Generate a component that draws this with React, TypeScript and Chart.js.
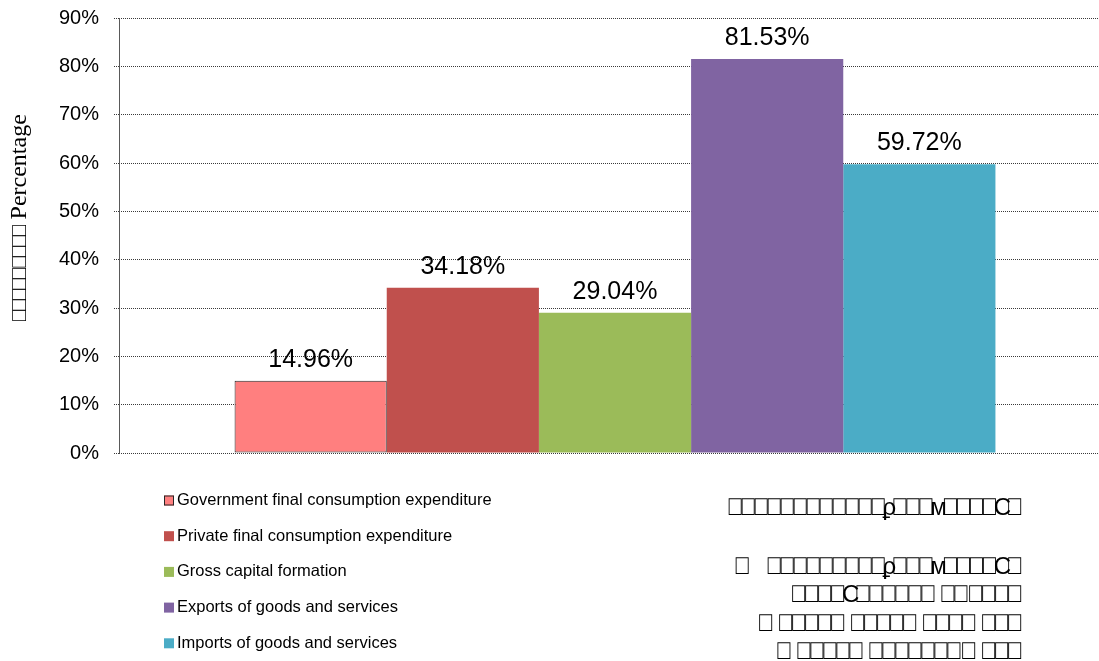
import React, { useEffect, useRef } from "react";
import { Chart, registerables } from "chart.js";

Chart.register(...registerables);

const categories: string[] = [""];
const seriesNames: string[] = [
  "Government final consumption expenditure",
  "Private final consumption expenditure",
  "Gross capital formation",
  "Exports of goods and services",
  "Imports of goods and services",
];
const seriesValues: number[] = [14.96, 34.18, 29.04, 81.53, 59.72];
const seriesColors: string[] = ["#FF7F7F", "#C0504D", "#9BBB59", "#8064A2", "#4BACC6"];
const yTickMin = 0;
const yTickMax = 90;
const yTickStep = 10;
// Text set in a legacy symbol-encoded font (private-use code points), shown as in the source.
const yTitleNative = "\uF0C1\uF0A8\uF0D2\uF0B5\uF0E3 \uF0A1\uF0C7\uF0B9\uF0D4";
const yTitleEnglish = "Percentage";
const noteLines: string[] = [
  "\uF0AA\uF0B3\uF0C1\uF0A8\uF0D2\uF0B5\uF0E3\uF0A1\uF0C7\uF0B9\uF0D4\uF0A6ϼ\uF0C3\uF0A4\uF0B2м\uF0D6\uF0B1\uF0E2\uF0C9C\uF0A7",
  "\uF0B4\u2003\uF0A8\uF0D2\uF0B5\uF0E3\uF0A1\uF0C7\uF0B9\uF0D4\uF0A6ϼ\uF0C3\uF0A4\uF0B2м\uF0D6\uF0B1\uF0E2\uF0C9C\uF0A7",
  "\uF0C5\uF0A3\uF0D1\uF0B6C\uF0E4\uF0A9\uF0C8\uF0BA\uF0D5\uF0AB\u2002\uF0E9\uF0B7 \uF0CA\uF0AC\uF0D7\uF0B8",
  "\uF0A5\u2002\uF0C9\uF0D3\uF0BB\uF0E5\uF0AD\u2002\uF0D8\uF0BC\uF0E6\uF0AE\uF0CC\u2002\uF0E7\uF0AF\uF0CD\uF0DA\u2002\uF0BE\uF0EA\uF0B9",
  "\uF0B0\u2002\uF0CE\uF0DB\uF0BF\uF0EB\uF0C0\u2002\uF0CF\uF0DC\uF0C2\uF0EC\uF0C4\uF0D0\uF0E1 \uF0DD\u2002\uF0C6\uF0ED\uF0DE",
];

const SANS = 'Arial, "Liberation Sans", sans-serif';
const SERIF = '"Times New Roman", "Liberation Serif", serif';

const axisLinePlugin = {
  id: "axisLine",
  beforeDatasetsDraw(chart: any) {
    const { ctx, chartArea } = chart;
    ctx.save();
    ctx.strokeStyle = "#595959";
    ctx.lineWidth = 1;
    ctx.setLineDash([]);
    ctx.beginPath();
    const x = Math.round(chartArea.left) + 0.5;
    ctx.moveTo(x, chartArea.top);
    ctx.lineTo(x, chartArea.bottom + 0.5);
    ctx.stroke();
    ctx.restore();
  },
};

const decorPlugin = {
  id: "decor",
  afterDraw(chart: any) {
    const ctx = chart.ctx as CanvasRenderingContext2D;
    ctx.save();
    // data labels
    ctx.fillStyle = "#000";
    ctx.font = `25px ${SANS}`;
    ctx.textAlign = "center";
    ctx.textBaseline = "alphabetic";
    chart.data.datasets.forEach((ds: any, i: number) => {
      const meta = chart.getDatasetMeta(i);
      meta.data.forEach((el: any, j: number) => {
        const v = ds.data[j] as number;
        ctx.fillText(`${v.toFixed(2)}%`, el.x, el.y - 14);
      });
    });

    // y title (reads bottom to top)
    ctx.save();
    ctx.translate(26, 323);
    ctx.rotate(-Math.PI / 2);
    ctx.textAlign = "left";
    ctx.textBaseline = "alphabetic";
    ctx.font = `20px ${SANS}`;
    (ctx as any).letterSpacing = "-4.5px";
    ctx.fillText(yTitleNative, 0, 0);
    const w1 = ctx.measureText(yTitleNative).width;
    (ctx as any).letterSpacing = "0px";
    ctx.font = `24px ${SERIF}`;
    ctx.fillText(yTitleEnglish, w1 + 8, 0);
    ctx.restore();

    // legend
    ctx.font = `16.5px ${SANS}`;
    ctx.textAlign = "left";
    ctx.textBaseline = "middle";
    chart.data.datasets.forEach((ds: any, i: number) => {
      const cy = 500.5 + i * 35.7;
      ctx.fillStyle = ds.backgroundColor;
      ctx.fillRect(164, cy - 5, 10, 10);
      if (ds.borderWidth > 0) {
        ctx.strokeStyle = ds.borderColor;
        ctx.lineWidth = 1;
        ctx.strokeRect(164.5, cy - 4.5, 9, 9);
      }
      ctx.fillStyle = "#000";
      ctx.fillText(ds.label, 177, cy);
    });

    // note block
    ctx.font = `24px ${SANS}`;
    (ctx as any).letterSpacing = "-5px";
    ctx.textAlign = "right";
    ctx.textBaseline = "middle";
    ctx.fillStyle = "#000";
    const ys = [508, 567, 595, 624, 652];
    noteLines.forEach((line, i) => {
      ctx.fillText(line, 1019, ys[i]);
    });
    (ctx as any).letterSpacing = "0px";
    ctx.restore();
  },
};

export default function App() {
  const canvasRef = useRef<HTMLCanvasElement | null>(null);

  useEffect(() => {
    const canvas = canvasRef.current;
    if (!canvas) return;
    const chart = new Chart(canvas, {
      type: "bar",
      data: {
        labels: categories,
        datasets: seriesNames.map((name, i) => ({
          label: name,
          data: [seriesValues[i]],
          backgroundColor: seriesColors[i],
          borderColor: i === 0 ? "#262626" : seriesColors[i],
          borderWidth: i === 0 ? 1 : 0,
          borderSkipped: false,
          categoryPercentage: 0.767,
          barPercentage: 1,
        })),
      },
      options: {
        responsive: false,
        animation: false,
        devicePixelRatio: 1,
        layout: { padding: { left: 0, right: 14, top: 18, bottom: 0 } },
        plugins: {
          legend: { display: false },
          tooltip: { enabled: false },
          title: { display: false },
        },
        scales: {
          x: {
            ticks: { display: false },
            grid: { display: false },
            border: { display: false },
            afterFit: (scale: any) => {
              scale.height = 208;
            },
          },
          y: {
            min: yTickMin,
            max: yTickMax,
            ticks: {
              stepSize: yTickStep,
              padding: 15,
              color: "#000",
              font: { family: SANS, size: 20 },
              callback: (v: any) => `${v}%`,
            },
            grid: {
              color: "#3a3a3a",
              lineWidth: 1,
              tickLength: 5,
              drawTicks: true,
              tickBorderDash: [1, 1],
            },
            border: { display: false, dash: [1, 1] },
            afterFit: (scale: any) => {
              scale.width = 119;
              scale.paddingTop = 12;
              scale.paddingBottom = 12;
            },
          },
        },
      },
      plugins: [axisLinePlugin, decorPlugin],
    } as any);
    return () => chart.destroy();
  }, []);

  return (
    <div
      style={{
        position: "fixed",
        left: 0,
        top: 0,
        width: 1099,
        height: 661,
        overflow: "hidden",
        background: "#fff",
      }}
    >
      <canvas ref={canvasRef} width={1125} height={661} style={{ display: "block" }} />
    </div>
  );
}
